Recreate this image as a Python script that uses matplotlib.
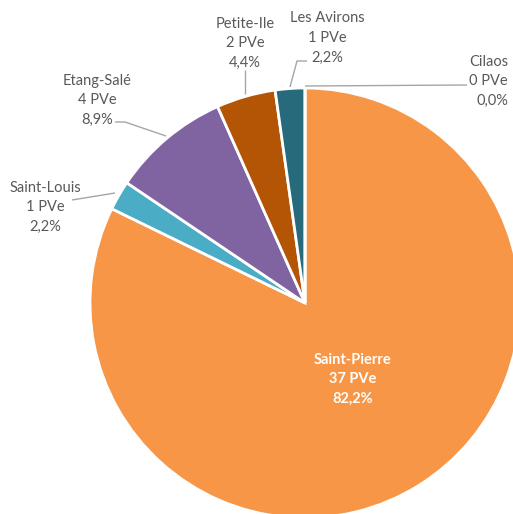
import matplotlib.pyplot as plt

# data
communes = ["Saint-Pierre", "Saint-Louis", "Etang-Salé", "Petite-Ile", "Les Avirons", "Cilaos"]
pve = [37, 1, 4, 2, 1, 0]
colors = ["#F79646", "#4BACC6", "#8064A2", "#B45506", "#276A7C", "#7F7F7F"]

W, H = 513, 514
fig = plt.figure(figsize=(W / 100, H / 100), dpi=100)
ax = fig.add_axes([0, 0, 1, 1])

cx, cy, r = 305, H - 303, 215
ax.pie(pve, colors=colors, startangle=90, counterclock=False,
       center=(cx, cy), radius=r, frame=True,
       wedgeprops=dict(edgecolor="white", linewidth=2))
ax.set_xlim(0, W)
ax.set_ylim(0, H)
ax.set_aspect("equal")
ax.axis("off")

total = sum(pve)
font = "Lato"
grey = "#595959"


def label(i, x, y, ha="center", color=grey, weight="normal"):
    txt = "%s\n%d PVe\n%s%%" % (communes[i], pve[i], ("%.1f" % (100 * pve[i] / total)).replace(".", ","))
    ax.text(x, H - y, txt, ha=ha, va="center", color=color, fontsize=10.5,
            family=font, fontweight=weight, linespacing=1.5)


def leader(xs, ys):
    ax.plot(xs, [H - v for v in ys], color="#A6A6A6", lw=1, solid_capstyle="butt")


label(0, 353, 379, color="white", weight="bold")
label(1, 45, 207)
label(2, 97, 100)
label(3, 245, 43)
label(4, 327, 38)
label(5, 508, 81, ha="right")

leader([72, 115], [200, 193])
leader([115, 125, 166], [122, 122, 136])
leader([245, 245], [70, 94])
leader([307, 297, 290], [61, 61, 87])
leader([305, 467], [86, 85])

fig.savefig("out.png", dpi=100)
